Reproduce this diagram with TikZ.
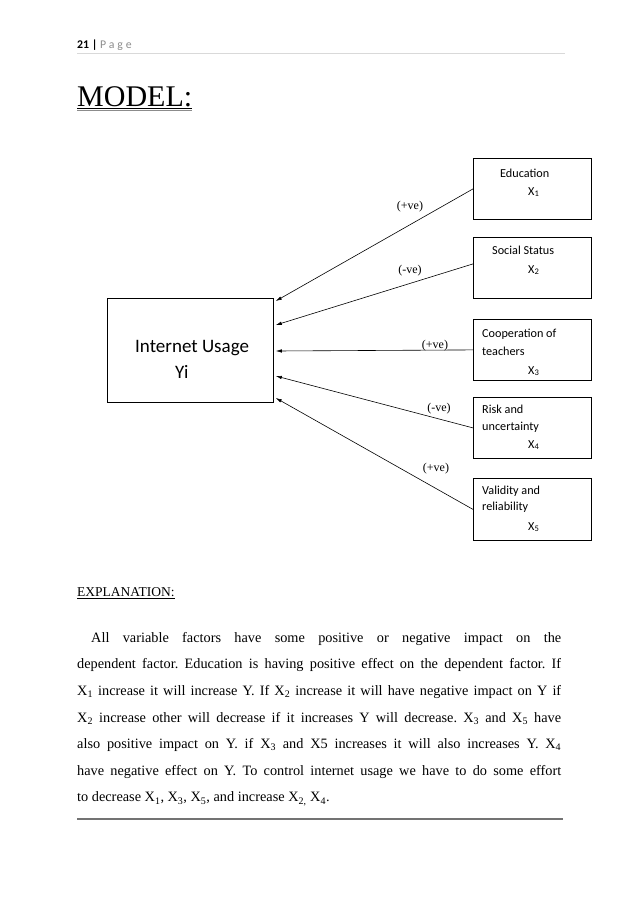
\documentclass[tikz,border=0pt]{standalone}
\usepackage{fontspec}
\setmainfont{Liberation Serif}
\newfontfamily\calibri{Carlito}
\newfontfamily\calibrisp[LetterSpace=25]{Carlito}
\usetikzlibrary{calc}
\usetikzlibrary{arrows.meta}
\usetikzlibrary{positioning}

\tikzset{
  factor/.style={draw, line width=0.8pt, minimum width=118pt, minimum height=61pt, inner sep=0pt, anchor=north west},
  flabel/.style={font=\calibri\fontsize{12.2}{14}\selectfont, anchor=base west, inner sep=0pt},
  sign/.style={font=\fontsize{12}{13}\selectfont, inner sep=0pt},
  effect/.style={-{Latex[length=6pt,width=3.5pt]}, line width=0.6pt},
}

\begin{document}
\begin{tikzpicture}[x=1pt,y=-1pt]
    \useasboundingbox (0,0) rectangle (638,903);

    % page header
    \node[anchor=base west, inner sep=0pt, font=\calibri\fontsize{11.8}{14}\selectfont] (head) at (77,48)
        {\textbf{21 |} \textcolor{black!45}{\calibrisp Page}};
    \coordinate (hl) at (77,53);
    \coordinate (hr) at (565,53);
    \draw[black!15, line width=0.8pt] (hl) -- (hr);

    % title
    \node[anchor=base west, inner sep=0pt, font=\fontsize{30}{32}\selectfont] (title) at (77,106) {MODEL:};
    \draw[line width=0.8pt] ($(title.base west)+(0,2)$) -- ($(title.base east)+(0,2)$);
    \draw[black!45, line width=1pt] ($(title.base west)+(0,4)$) -- ($(title.base east)+(0,4)$);

    % dependent factor
    \node[draw, line width=0.8pt, minimum width=166pt, minimum height=104pt, inner sep=0pt, anchor=north west] (yi) at (107,298) {};
    \node[anchor=base west, inner sep=0pt, font=\calibri\fontsize{19}{22}\selectfont] (yiname) at (135,352) {Internet Usage};
    \node[anchor=base west, inner sep=0pt, font=\calibri\fontsize{19}{22}\selectfont] (yisym) at (175,378) {Yi};

    % independent factors
    \node[factor] (edu) at (473,158) {};
    \node[factor] (soc) at (473,237) {};
    \node[factor] (coop) at (473,319) {};
    \node[factor] (risk) at (473,397) {};
    \node[factor, minimum height=62pt] (valid) at (473,478) {};

    \node[flabel] at (500,177) {Education};
    \node[flabel] at (528,195) {X\textsubscript{1}};
    \node[flabel] at (492,254) {Social Status};
    \node[flabel] at (528,273) {X\textsubscript{2}};
    \node[flabel] at (482,337) {Cooperation of};
    \node[flabel] at (482,355) {teachers};
    \node[flabel] at (528,374) {X\textsubscript{3}};
    \node[flabel] at (482,413) {Risk and};
    \node[flabel] at (482,430) {uncertainty};
    \node[flabel] at (528,448) {X\textsubscript{4}};
    \node[flabel] at (482,494) {Validity and};
    \node[flabel] at (482,510) {reliability};
    \node[flabel] at (528,530) {X\textsubscript{5}};

    % arrow tips on the dependent box
    \foreach \i/\dy in {1/3,2/27,3/53,4/78,5/100}{
        \coordinate (t\i) at ($(yi.north east)+(2,\dy)$);
    }

    \draw[effect] (edu.west) -- (t1);
    \draw[effect] ($(soc.west)+(0,-4)$) -- (t2);
    \draw[effect] (coop.west) -- (t3);
    \draw[effect] (risk.west) -- (t4);
    \draw[effect] (valid.west) -- (t5);

    \node[sign] (s1) at (410,207) {(+ve)};
    \node[sign] (s2) at (410,271) {(-ve)};
    \node[sign] (s3) at (435,346) {(+ve)};
    \node[sign] (s4) at (439,409) {(-ve)};
    \node[sign] (s5) at (436,469) {(+ve)};

    % explanation
    \node[anchor=base west, inner sep=0pt, font=\fontsize{13.5}{15}\selectfont] (expl) at (77,596) {EXPLANATION:};
    \draw[line width=0.6pt] ($(expl.base west)+(0,2)$) -- ($(expl.base east)+(0,2)$);

    \node[anchor=north west, inner sep=0pt, text width=484pt, align=justify,
          font=\fontsize{14.3}{26.6}\selectfont\frenchspacing] (para) at (77,632)
        {\hspace*{14pt}All variable factors have some positive or negative impact on the\linebreak
         dependent factor. Education is having positive effect on the dependent factor. If\linebreak
         X\textsubscript{1} increase it will increase Y. If X\textsubscript{2} increase it will have negative impact on Y if\linebreak
         X\textsubscript{2} increase other will decrease if it increases Y will decrease. X\textsubscript{3} and X\textsubscript{5} have\linebreak
         also positive impact on Y. if X\textsubscript{3} and X5 increases it will also increases Y. X\textsubscript{4}\linebreak
         have negative effect on Y. To control internet usage we have to do some effort\linebreak
         to decrease X\textsubscript{1}, X\textsubscript{3}, X\textsubscript{5}, and increase X\textsubscript{2,} X\textsubscript{4}.};

    \coordinate (fl) at (77,819);
    \coordinate (fr) at (563,819);
    \draw[black!55, line width=1.3pt] (fl) -- (fr);
\end{tikzpicture}
\end{document}
